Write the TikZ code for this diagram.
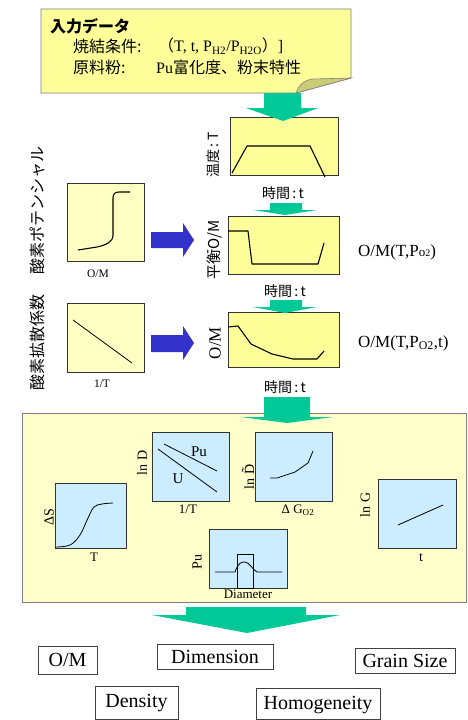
\documentclass[tikz,border=0pt]{standalone}
\usepackage{fontspec}
\setmainfont{Liberation Serif}
\newfontfamily\jp{Noto Sans CJK JP}
\newcommand\myfs[1]{\fontsize{#1}{#1}\selectfont}
\definecolor{callout}{HTML}{FFFF99}
\definecolor{fold}{HTML}{CCCC77}
\definecolor{lightyel}{HTML}{FFFFCC}
\definecolor{graphyel}{HTML}{FFFFC4}
\definecolor{lightblue}{HTML}{CCECFF}
\definecolor{arrgreen}{HTML}{00C896}
\definecolor{arrblue}{HTML}{3333CC}
\definecolor{edgegray}{HTML}{7F7F7F}
\tikzset{
  graphbox/.style={draw=black!80, line width=0.9pt},
  curve/.style={line width=1.1pt, line join=round},
  garrow/.style={fill=arrgreen, draw=none},
  barrow/.style={fill=arrblue, draw=none},
  lbl/.style={inner sep=0pt, font=\myfs{13}},
  jplbl/.style={inner sep=0pt, font=\jp\myfs{16}},
  outbox/.style={draw=black!75, line width=0.8pt},
  outtxt/.style={inner sep=0pt, font=\myfs{20}}
}
\begin{document}
\begin{tikzpicture}[x=1pt,y=-1pt]
\useasboundingbox (0,0) rectangle (467,720);
\fill[white] (0,0) rectangle (467,720);

% ---------- input callout ----------
\filldraw[fill=callout, draw=edgegray, line width=0.8pt]
  (41,9) -- (351,9) -- (351,78) -- (296,93) -- (41,93) -- cycle;
\filldraw[fill=fold, draw=edgegray, line width=0.6pt]
  (296,93) .. controls (299,85) and (304,80) .. (313,79) -- (351,78) -- cycle;
\node[jplbl, anchor=west, font=\jp\bfseries\myfs{16}] (inp) at (50,26) {入力データ};
\node[jplbl, anchor=west] (sint) at (73,46) {焼結条件:};
\node[inner sep=0pt, anchor=west, font=\myfs{16}] (sinv) at (158,46)
  {{\jp （}T, t, P\textsubscript{H2}/P\textsubscript{H2O}{\jp ）}]};
\node[jplbl, anchor=west] (genr) at (73,67) {原料粉:};
\node[inner sep=0pt, anchor=west, font=\myfs{16}] (genv) at (156,67)
  {Pu{\jp 富化度、粉末特性}};

% ---------- temperature ----------
\filldraw[fill=callout, graphbox] (230,117) rectangle (338,175);
\draw[curve] (232,173) -- (247,146) -- (310,146) -- (325,177);
\node[jplbl, rotate=90, font=\jp\myfs{14}] (tlab) at (213,155) {温度\,:\,T};
\fill[garrow] (264,93) -- (301,93) -- (301,108) -- (318,108) -- (283,121) -- (246,108) -- (264,108) -- cycle;
\node[jplbl, font=\jp\myfs{14}] (t1) at (283,193) {時間\,:\,t};

% ---------- equilibrium O/M ----------
\filldraw[fill=callout, graphbox] (228,216) rectangle (339,274);
\draw[curve] (228,231) -- (248,231) -- (252,264) -- (318,264) -- (324,243);
\fill[garrow] (270,203) -- (302,203) -- (302,210) -- (317,210) -- (285,215) -- (253,210) -- (270,210) -- cycle;
\node[jplbl, rotate=90, font=\jp\myfs{15}] (eqlab) at (215,250) {平衡O/M};
\node[inner sep=0pt, anchor=west, font=\myfs{17}] (eqr) at (358,252)
  {O/M(T,P{\myfs{13}o}{\myfs{10}2})};
\node[jplbl, font=\jp\myfs{14}] (t2) at (285,291) {時間\,:\,t};

% ---------- O/M kinetics ----------
\filldraw[fill=callout, graphbox] (228,312) rectangle (339,367);
\draw[curve] (228,327) -- (238,326) -- (251,344) -- (272,354) -- (293,359) -- (317,359) -- (324,351);
\fill[garrow] (270,300) -- (302,300) -- (302,307) -- (317,307) -- (285,313) -- (253,307) -- (270,307) -- cycle;
\node[inner sep=0pt, rotate=90, font=\myfs{17}] (omlab) at (215,343) {O/M};
\node[inner sep=0pt, anchor=west, font=\myfs{17}] (omr) at (358,343)
  {O/M(T,P\textsubscript{O2},t)};
\node[jplbl, font=\jp\myfs{14}] (t3) at (285,387) {時間\,:\,t};

% ---------- left: oxygen potential ----------
\node[jplbl, rotate=90] (opot) at (37,210) {酸素ポテンシャル};
\filldraw[fill=graphyel, graphbox] (67,183) rectangle (144,261);
\draw[curve] (78,250) -- (97,247) .. controls (107,245) and (113,241) .. (113,236)
  -- (113,198) .. controls (113,194) and (115,192) .. (119,192) -- (130,192);
\node[lbl, font=\myfs{11.5}] (omx) at (98,274) {O/M};
\fill[barrow] (151,232) -- (183,232) -- (183,223) -- (194,240) -- (183,257) -- (183,248) -- (151,248) -- cycle;

% ---------- left: oxygen diffusion ----------
\node[jplbl, rotate=90] (odif) at (37,342) {酸素拡散係数};
\filldraw[fill=graphyel, graphbox] (67,303) rectangle (144,372);
\draw[curve, line width=0.8pt] (73,320) -- (132,363);
\node[lbl, font=\myfs{11.5}] (invt) at (102,384) {1/T};
\fill[barrow] (151,335) -- (183,335) -- (183,326) -- (194,343) -- (183,360) -- (183,352) -- (151,352) -- cycle;

% ---------- big model box ----------
\filldraw[fill=lightyel, draw=edgegray, line width=1pt] (22,413) rectangle (466,602);
\fill[garrow] (264,397) -- (310,397) -- (310,417) -- (333,417) -- (287,423) -- (241,417) -- (264,417) -- cycle;

% Delta S
\filldraw[fill=lightblue, graphbox] (55,483) rectangle (126,548);
\draw[curve, line width=0.8pt] plot[smooth, tension=0.6] coordinates
  {(56,547) (70,545) (80,535) (88,518) (94,507) (102,504) (113,503)};
\node[lbl, rotate=90, font=\myfs{14}] (dsl) at (49,517) {ΔS};
\node[lbl] (dsx) at (94,557) {T};

% ln D
\filldraw[fill=lightblue, graphbox] (152,432) rectangle (229,501);
\draw[curve, line width=0.8pt] (164,444) -- (217,471);
\draw[curve, line width=0.8pt] (158,449) -- (217,492);
\node[lbl, font=\myfs{15}] (pul) at (199,452) {Pu};
\node[lbl, font=\myfs{15}] (ul) at (178,479) {U};
\node[lbl, rotate=90, font=\myfs{14}] (lnd) at (142,463) {ln D};
\node[lbl] (lndx) at (188,509) {1/T};

% ln D tilde
\filldraw[fill=lightblue, graphbox] (255,432) rectangle (332,501);
\draw[curve, line width=0.8pt] (270,478) -- (277,478) -- (295,472) -- (308,463) -- (313,451);
\node[lbl, rotate=90, font=\myfs{14}] (lndt) at (248,477) {ln \~{D}};
\node[lbl] (dgx) at (298,510) {Δ G\textsubscript{O2}};

% ln G
\filldraw[fill=lightblue, graphbox] (378,479) rectangle (456,548);
\draw[curve, line width=0.8pt] (398,525) -- (443,505);
\node[lbl, rotate=90, font=\myfs{14}] (lng) at (365,505) {ln G};
\node[lbl, font=\myfs{14}] (lngx) at (421,558) {t};

% Pu distribution
\filldraw[fill=lightblue, graphbox] (209,529) rectangle (287,588);
\draw[line width=0.8pt] (237,554) rectangle (253,588);
\draw[curve, line width=0.8pt] (215,572) -- (235,572) .. controls (238,563) and (241,562) .. (245,562)
  .. controls (249,562) and (253,570) .. (257,572) -- (282,572);
\node[lbl, rotate=90, font=\myfs{14}] (pud) at (197,562) {Pu};
\node[lbl] (diam) at (248,594) {Diameter};

% ---------- output ----------
\fill[garrow] (186,607) -- (306,607) -- (306,615) -- (340,615) -- (247,633) -- (152,615) -- (186,615) -- cycle;
\draw[outbox] (38,646) rectangle (97,674);
\node[outtxt] (oom) at (67.5,660) {O/M};
\draw[outbox] (157,644) rectangle (273,669);
\node[outtxt] (odim) at (215,656.5) {Dimension};
\draw[outbox] (355,648) rectangle (455,673);
\node[outtxt] (ogs) at (405,660.5) {Grain Size};
\draw[outbox] (95,686) rectangle (178,719);
\node[outtxt] (oden) at (136.5,703) {Density};
\draw[outbox] (256,688) rectangle (380,719);
\node[outtxt] (ohom) at (318,705) {Homogeneity};
\end{tikzpicture}
\end{document}
